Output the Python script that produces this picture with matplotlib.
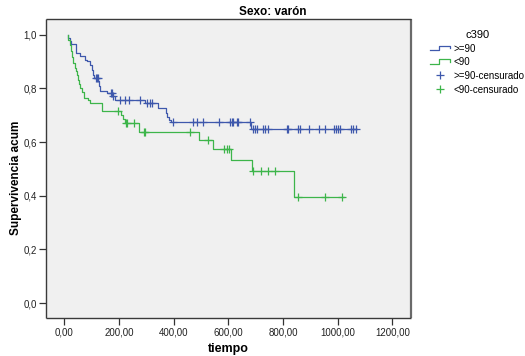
import matplotlib
matplotlib.use("Agg")
import matplotlib.pyplot as plt
from matplotlib.legend_handler import HandlerBase
from matplotlib.lines import Line2D
from matplotlib.ticker import FuncFormatter

plt.rcParams['font.family'] = ['Liberation Sans', 'DejaVu Sans']

# Kaplan-Meier estimates for men, split by c390
title_text = "Sexo: varón"
legend_title = "c390"
group_labels = [">=90", "<90"]
censor_labels = [">=90-censurado", "<90-censurado"]

t_start = 14

# group >=90: event times and survival after each event
hi_times = [15, 19, 23, 41, 44, 57, 76, 82, 94, 102, 106, 110, 124, 127, 130,
            155, 176, 185, 295, 344, 372, 377, 384, 389, 681]
hi_surv = [0.988, 0.977, 0.965, 0.947, 0.931, 0.922, 0.906, 0.900, 0.885, 0.869,
           0.850, 0.838, 0.826, 0.807, 0.789, 0.782, 0.770, 0.758, 0.744, 0.725,
           0.709, 0.694, 0.682, 0.673, 0.648]
hi_censored = [115, 118, 122, 170, 174, 178, 203, 222, 238, 277, 301, 313, 320,
               398, 469, 484, 508, 564, 606, 612, 618, 630, 636, 679, 691, 697,
               703, 728, 734, 746, 813, 819, 856, 862, 895, 932, 953, 986, 993,
               1002, 1008, 1047, 1057, 1067]
hi_end = 1070

# group <90
lo_times = [15, 22, 26, 29, 31, 39, 42, 45, 49, 54, 57, 64, 72, 88, 94, 137,
            209, 216, 222, 274, 494, 545, 608, 685, 841]
lo_surv = [0.980, 0.960, 0.940, 0.915, 0.894, 0.875, 0.863, 0.848, 0.832, 0.815,
           0.800, 0.787, 0.764, 0.755, 0.744, 0.717, 0.700, 0.685, 0.670, 0.638,
           0.608, 0.573, 0.533, 0.493, 0.394]
lo_censored = [198, 226, 230, 255, 291, 295, 460, 527, 584, 594, 603, 691, 718,
               746, 770, 853, 953, 1016]
lo_end = 1023

x_ticks = [0, 200, 400, 600, 800, 1000, 1200]
y_ticks = [0.0, 0.2, 0.4, 0.6, 0.8, 1.0]

blue = "#3E58AC"
green = "#3DB54A"


def step_path(times, surv, t_end):
    return [t_start] + times + [t_end], [1.0] + surv + [surv[-1]]


def surv_at(times, surv, t):
    s = 1.0
    for ti, si in zip(times, surv):
        if ti <= t:
            s = si
    return s


class StepHandler(HandlerBase):
    def create_artists(self, legend, orig_handle, xdescent, ydescent,
                       width, height, fontsize, trans):
        x0, x1 = -xdescent, -xdescent + width
        lo, hi = -ydescent + height * 0.15, -ydescent + height * 0.85
        xs = [x0, x0 + 0.45 * width, x0 + 0.45 * width, x1, x1]
        ys = [lo, lo, hi, hi, hi - 0.35 * height]
        ln = Line2D(xs, ys, color=orig_handle.get_color(),
                    lw=orig_handle.get_linewidth(), transform=trans)
        return [ln]


fig = plt.figure(figsize=(5.25, 3.56), dpi=100)
ax = fig.add_axes([46 / 525, 1 - 318 / 356, 365 / 525, 299 / 356])
ax.set_facecolor("#F0F0F0")

series = [
    (hi_times, hi_surv, hi_censored, hi_end, blue),
    (lo_times, lo_surv, lo_censored, lo_end, green),
]
line_handles = []
cens_handles = []
for times, surv, cens, t_end, col in series:
    xs, ys = step_path(times, surv, t_end)
    ln, = ax.plot(xs, ys, drawstyle="steps-post", color=col, lw=0.9)
    line_handles.append(ln)
    cy = [surv_at(times, surv, c) for c in cens]
    mk, = ax.plot(cens, cy, linestyle="none", marker="+", ms=6, mew=0.9,
                  color=col)
    cens_handles.append(mk)

ax.set_xlim(-67, 1268)
ax.set_ylim(-0.055, 1.058)
ax.set_xticks(x_ticks)
ax.set_yticks(y_ticks)
ax.xaxis.set_major_formatter(FuncFormatter(lambda v, p: f"{v:.2f}".replace(".", ",")))
ax.yaxis.set_major_formatter(FuncFormatter(lambda v, p: f"{v:.1f}".replace(".", ",")))
ax.tick_params(axis="both", labelsize=7, length=5, width=0.9, color="#333333",
               labelcolor="#222222", pad=1.5)

for side in ["left", "bottom", "top", "right"]:
    ax.spines[side].set_color("#3a3a3a")
    ax.spines[side].set_linewidth(1.0)
    ax.spines[side].set_capstyle("butt")
ax.spines["right"].set_linewidth(1.6)
ax.spines["right"].set_color("#6a6a6a")

ax.set_xlabel("tiempo", fontsize=9, fontweight="bold", labelpad=4)
ax.set_ylabel("Supervivencia acum", fontsize=8.5, fontweight="bold")
ax.yaxis.set_label_coords(-0.066, 0.47)

fig.text(273 / 525, 1 - 12 / 356, title_text, ha="center", va="center",
         fontsize=8.5, fontweight="bold")

handles = line_handles + cens_handles
labels = group_labels + censor_labels
leg = fig.legend(handles, labels, loc="upper left",
                 bbox_to_anchor=(423 / 525, 1 - 23 / 356),
                 title=legend_title, title_fontsize=8, fontsize=7,
                 frameon=False, handlelength=2.1, handletextpad=0.35,
                 labelspacing=0.38, borderpad=0.2,
                 handler_map={line_handles[0]: StepHandler(),
                              line_handles[1]: StepHandler()})
leg._legend_box.align = "center"

fig.savefig("out.png", dpi=100)
